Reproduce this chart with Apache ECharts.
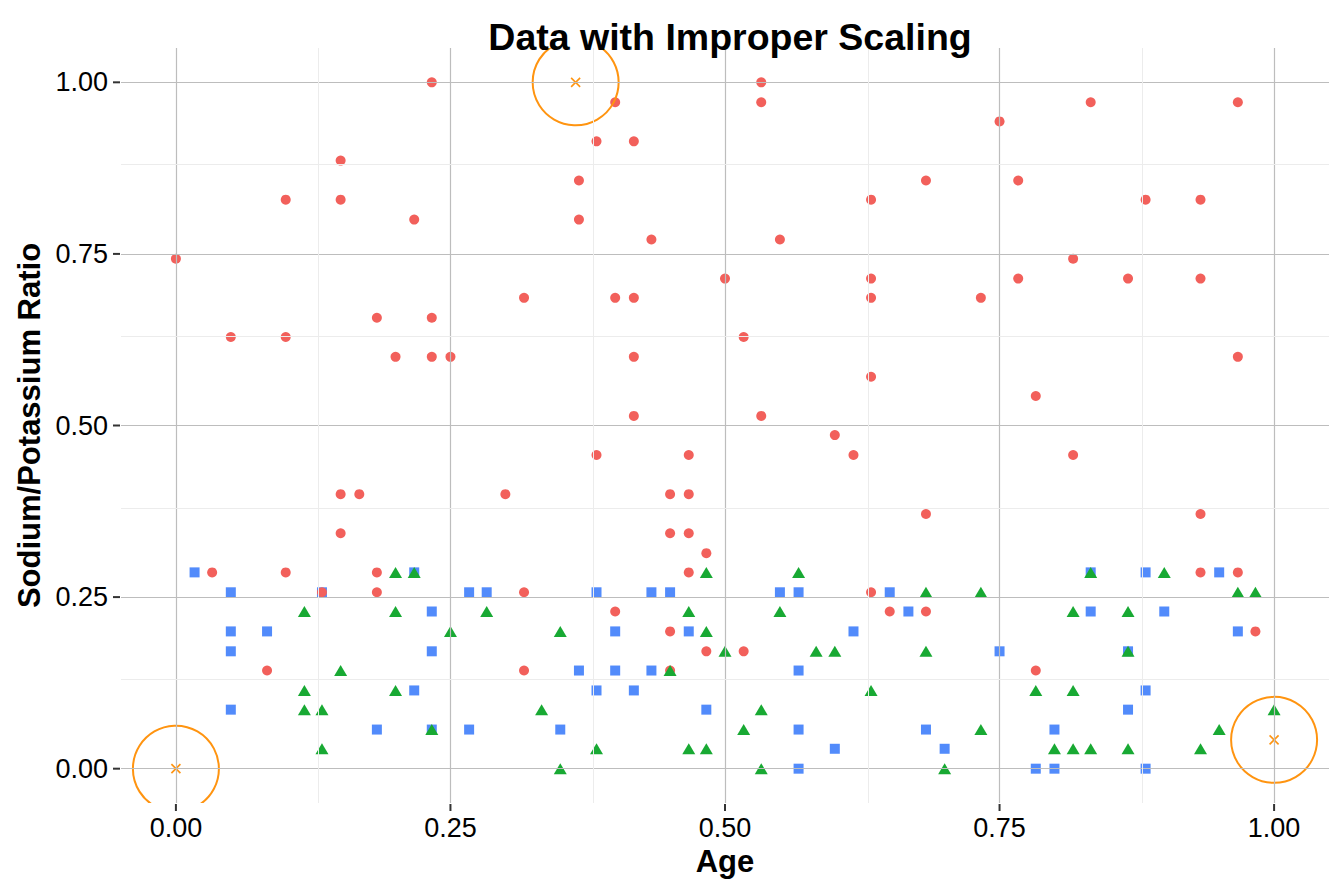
<!DOCTYPE html>
<html>
<head>
<meta charset="utf-8">
<title>Data with Improper Scaling</title>
<script src="https://cdn.jsdelivr.net/npm/echarts@6/dist/echarts.min.js"></script>
<style>
  html, body { margin: 0; padding: 0; background: #fff; }
  #chart { width: 1344px; height: 895px; }
</style>
</head>
<body>
<div id="chart"></div>
<script>
// scaled age (x) and sodium/potassium ratio (y)
var redPoints = [
  [0.233, 1.000], [0.150, 0.886], [0.100, 0.829], [0.150, 0.829], [0.217, 0.800],
  [0.000, 0.743], [0.317, 0.686], [0.050, 0.629], [0.100, 0.629], [0.183, 0.657],
  [0.233, 0.657], [0.200, 0.600], [0.233, 0.600], [0.250, 0.600],
  [0.400, 0.971], [0.383, 0.914], [0.417, 0.914], [0.367, 0.857], [0.367, 0.800],
  [0.433, 0.771], [0.533, 1.000], [0.533, 0.971], [0.550, 0.771], [0.500, 0.714],
  [0.400, 0.686], [0.417, 0.686], [0.517, 0.629], [0.417, 0.600], [0.417, 0.514],
  [0.533, 0.514], [0.600, 0.486], [0.633, 0.829], [0.683, 0.857], [0.633, 0.714],
  [0.633, 0.686], [0.633, 0.571],
  [0.833, 0.971], [0.967, 0.971], [0.750, 0.943], [0.767, 0.857], [0.883, 0.829],
  [0.933, 0.829], [0.817, 0.743], [0.767, 0.714], [0.867, 0.714], [0.933, 0.714],
  [0.733, 0.686], [0.967, 0.600], [0.783, 0.543],
  [0.150, 0.400], [0.167, 0.400], [0.150, 0.343], [0.033, 0.286], [0.100, 0.286],
  [0.183, 0.286], [0.133, 0.257], [0.183, 0.257], [0.083, 0.143],
  [0.383, 0.457], [0.467, 0.457], [0.300, 0.400], [0.450, 0.400], [0.467, 0.400],
  [0.450, 0.343], [0.467, 0.343], [0.483, 0.314], [0.467, 0.286], [0.317, 0.257],
  [0.400, 0.229], [0.450, 0.200], [0.483, 0.171], [0.317, 0.143], [0.450, 0.143],
  [0.617, 0.457], [0.683, 0.371], [0.633, 0.257], [0.650, 0.229], [0.683, 0.229],
  [0.517, 0.171],
  [0.817, 0.457], [0.933, 0.371], [0.933, 0.286], [0.967, 0.286], [0.983, 0.200],
  [0.783, 0.143]
];

var bluePoints = [
  [0.017, 0.286], [0.050, 0.257], [0.133, 0.257], [0.217, 0.286], [0.050, 0.200],
  [0.083, 0.200], [0.050, 0.171], [0.233, 0.229], [0.233, 0.171], [0.217, 0.114],
  [0.050, 0.086], [0.183, 0.057], [0.233, 0.057],
  [0.267, 0.257], [0.283, 0.257], [0.383, 0.257], [0.433, 0.257], [0.450, 0.257],
  [0.400, 0.200], [0.467, 0.200], [0.367, 0.143], [0.400, 0.143], [0.433, 0.143],
  [0.383, 0.114], [0.417, 0.114], [0.483, 0.086], [0.267, 0.057], [0.350, 0.057],
  [0.550, 0.257], [0.567, 0.257], [0.650, 0.257], [0.667, 0.229], [0.617, 0.200],
  [0.750, 0.171], [0.567, 0.143], [0.567, 0.057], [0.683, 0.057], [0.600, 0.029],
  [0.700, 0.029], [0.567, 0.000],
  [0.833, 0.286], [0.883, 0.286], [0.950, 0.286], [0.833, 0.229], [0.900, 0.229],
  [0.967, 0.200], [0.867, 0.171], [0.883, 0.114], [0.867, 0.086], [0.800, 0.057],
  [0.783, 0.000], [0.800, 0.000], [0.883, 0.000]
];

var greenPoints = [
  [0.200, 0.286], [0.217, 0.286], [0.117, 0.229], [0.200, 0.229], [0.150, 0.143],
  [0.117, 0.114], [0.200, 0.114], [0.117, 0.086], [0.133, 0.086], [0.133, 0.029],
  [0.483, 0.286], [0.283, 0.229], [0.467, 0.229], [0.250, 0.200], [0.350, 0.200],
  [0.483, 0.200], [0.500, 0.171], [0.450, 0.143], [0.333, 0.086], [0.233, 0.057],
  [0.383, 0.029], [0.467, 0.029], [0.483, 0.029], [0.350, 0.000],
  [0.567, 0.286], [0.683, 0.257], [0.733, 0.257], [0.550, 0.229], [0.583, 0.171],
  [0.600, 0.171], [0.683, 0.171], [0.633, 0.114], [0.533, 0.086], [0.517, 0.057],
  [0.733, 0.057], [0.533, 0.000], [0.700, 0.000],
  [0.833, 0.286], [0.900, 0.286], [0.967, 0.257], [0.983, 0.257], [0.817, 0.229],
  [0.867, 0.229], [0.867, 0.171], [0.783, 0.114], [0.817, 0.114], [1.000, 0.086],
  [0.950, 0.057], [0.800, 0.029], [0.817, 0.029], [0.833, 0.029], [0.867, 0.029],
  [0.933, 0.029]
];

var outlierPoints = [[0.000, 0.000], [0.364, 1.000], [1.000, 0.042]];

var majorTicks = [0, 0.25, 0.5, 0.75, 1];
var minorTicks = [0.125, 0.375, 0.625, 0.875];
var axisMin = -0.05;
var axisMax = 1.05;

(function() {
  var red = '#F2605B';
  var green = '#18A933';
  var blue = '#528BFB';
  var orange = '#FF9410';
  var major = '#bdbdbd';
  var minor = '#ececec';
  var tickColor = '#333';
  var font = '"Liberation Sans", Arial, Helvetica, sans-serif';

  var chart = echarts.init(document.getElementById('chart'), null, { renderer: 'svg' });

  // panel grid drawn as mark lines so the axis can keep its padded range
  var gridLines = [];
  majorTicks.forEach(function(v) {
    gridLines.push({ xAxis: v, lineStyle: { color: major, width: 1.2, type: 'solid' } });
    gridLines.push({ yAxis: v, lineStyle: { color: major, width: 1.2, type: 'solid' } });
  });
  minorTicks.forEach(function(v) {
    gridLines.push({ xAxis: v, lineStyle: { color: minor, width: 1, type: 'solid' } });
    gridLines.push({ yAxis: v, lineStyle: { color: minor, width: 1, type: 'solid' } });
  });

  // tick marks sit on the panel edges: bottom for x breaks, left for y breaks
  var xTickMarks = majorTicks.map(function(v) { return [v, axisMin]; });
  var yTickMarks = majorTicks.map(function(v) { return [axisMin, v]; });

  function tickLabel(v) { return v.toFixed(2); }

  var axisCommon = {
    type: 'value',
    min: axisMin,
    max: axisMax,
    nameLocation: 'middle',
    nameTextStyle: { color: '#000', fontFamily: font, fontWeight: 'bold', fontSize: 31 },
    axisLine: { show: false, onZero: false },
    splitLine: { show: false },
    axisTick: { show: false },
    axisLabel: { customValues: majorTicks, formatter: tickLabel, color: '#000', fontFamily: font, fontSize: 27 }
  };

  chart.setOption({
    animation: false,
    backgroundColor: '#fff',
    title: {
      text: 'Data with Improper Scaling',
      left: 725,
      textAlign: 'center',
      top: 13,
      textStyle: { color: '#000', fontFamily: font, fontWeight: 'bold', fontSize: 37.5 }
    },
    grid: { left: 121, right: 15, top: 48, bottom: 92 },
    xAxis: Object.assign({}, axisCommon, {
      name: 'Age',
      nameGap: 43,
      axisLabel: Object.assign({}, axisCommon.axisLabel, { margin: 11 })
    }),
    yAxis: Object.assign({}, axisCommon, {
      name: 'Sodium/Potassium Ratio',
      nameGap: 74,
      axisLabel: Object.assign({}, axisCommon.axisLabel, { margin: 13 })
    }),
    series: [
      {
        name: 'grid',
        type: 'line',
        data: [],
        z: 1,
        silent: true,
        markLine: { silent: true, symbol: ['none', 'none'], label: { show: false }, data: gridLines }
      },
      {
        name: 'x ticks', type: 'scatter', z: 1, silent: true, clip: false, data: xTickMarks,
        symbol: 'rect', symbolSize: [2, 7], symbolOffset: [0, 4.5], itemStyle: { color: tickColor, opacity: 1 }
      },
      {
        name: 'y ticks', type: 'scatter', z: 1, silent: true, clip: false, data: yTickMarks,
        symbol: 'rect', symbolSize: [7, 2], symbolOffset: [-4.5, 0], itemStyle: { color: tickColor, opacity: 1 }
      },
      {
        name: 'blue', type: 'scatter', z: 2, data: bluePoints,
        symbol: 'rect', symbolSize: 10, itemStyle: { color: blue, opacity: 1 }
      },
      {
        name: 'red', type: 'scatter', z: 2, data: redPoints,
        symbol: 'circle', symbolSize: 10, itemStyle: { color: red, opacity: 1 }
      },
      {
        name: 'green', type: 'scatter', z: 2, data: greenPoints,
        symbol: 'triangle', symbolSize: [13, 11], itemStyle: { color: green, opacity: 1 }
      },
      {
        name: 'outliers',
        type: 'custom',
        z: 3,
        clip: true,
        data: outlierPoints,
        encode: { x: 0, y: 1 },
        renderItem: function(params, api) {
          var p = api.coord([api.value(0), api.value(1)]);
          var s = 4.5;
          var st = { stroke: orange, lineWidth: 1.6, fill: 'none' };
          return {
            type: 'group',
            children: [
              { type: 'circle', shape: { cx: p[0], cy: p[1], r: 43 }, style: { stroke: orange, lineWidth: 2, fill: 'none' } },
              { type: 'line', shape: { x1: p[0] - s, y1: p[1] - s, x2: p[0] + s, y2: p[1] + s }, style: st },
              { type: 'line', shape: { x1: p[0] - s, y1: p[1] + s, x2: p[0] + s, y2: p[1] - s }, style: st }
            ]
          };
        }
      }
    ]
  });

  window.addEventListener('resize', function() { chart.resize(); });
})();
</script>
</body>
</html>
